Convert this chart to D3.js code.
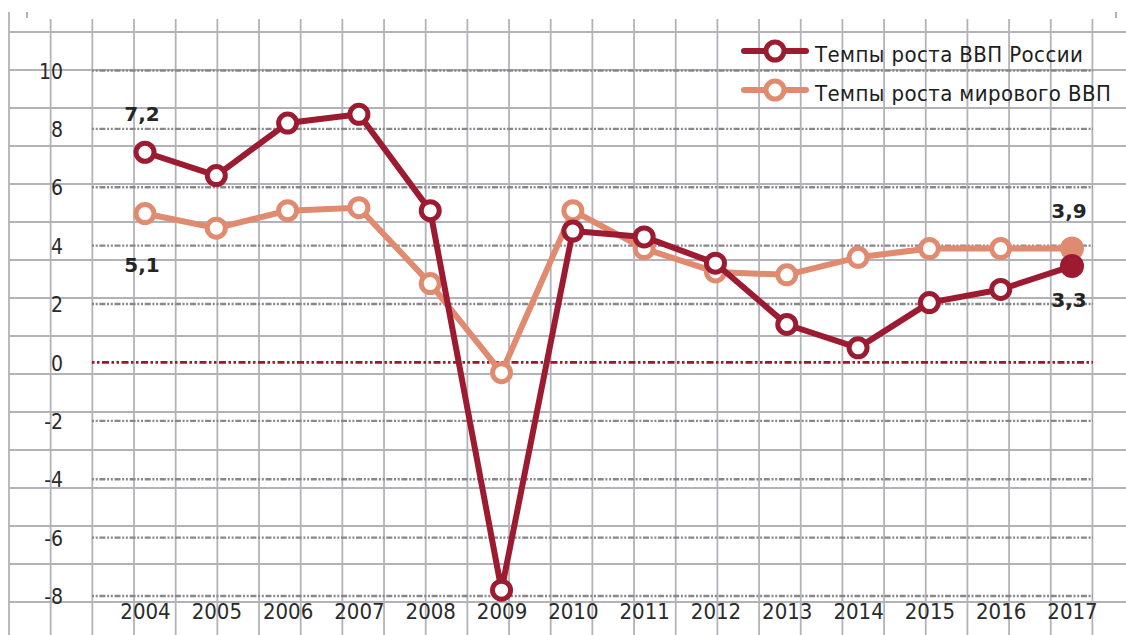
<!DOCTYPE html>
<html>
<head>
<meta charset="utf-8">
<script src="https://cdn.jsdelivr.net/npm/d3@7"></script>
<style>
  html, body { margin: 0; padding: 0; background: #fff; }
  svg { display: block; }
</style>
</head>
<body>
<svg id="chart" width="1126" height="635"></svg>
<script>
const years = [2004, 2005, 2006, 2007, 2008, 2009, 2010, 2011, 2012, 2013, 2014, 2015, 2016, 2017];
const russiaGrowth = [7.2, 6.4, 8.2, 8.5, 5.2, -7.8, 4.5, 4.3, 3.4, 1.3, 0.5, 2.05, 2.5, 3.3];
const worldGrowth = [5.1, 4.6, 5.2, 5.3, 2.7, -0.35, 5.2, 3.9, 3.1, 3.0, 3.6, 3.9, 3.9, 3.9];
const yTicks = [10, 8, 6, 4, 2, 0, -2, -4, -6, -8];
const seriesNames = ["Темпы роста ВВП России", "Темпы роста мирового ВВП"];
const valueLabels = [
  { series: 0, index: 0, text: "7,2", pos: "above" },
  { series: 1, index: 0, text: "5,1", pos: "below" },
  { series: 1, index: 13, text: "3,9", pos: "above" },
  { series: 0, index: 13, text: "3,3", pos: "below" }
];

const W = 1126, H = 635;
const colors = ["#9c1b31", "#e08a70"];
const svg = d3.select("#chart");

const x = d3.scalePoint().domain(years).range([145, 1072]);
const y = d3.scaleLinear().domain([-8, 10]).range([596, 70.5]);

// graph-paper background
const paper = svg.append("g");
const vStep = 41.67, hStep = 38;
d3.range(9, 1094, vStep).forEach((vx, i) => {
  paper.append("line")
    .attr("x1", vx).attr("x2", vx)
    .attr("y1", i === 0 ? 12 : 19).attr("y2", H)
    .attr("stroke", "#b2b3b9").attr("stroke-width", 1.8);
});
d3.range(32, H, hStep).forEach(hy => {
  paper.append("line")
    .attr("x1", 9).attr("x2", W)
    .attr("y1", hy).attr("y2", hy)
    .attr("stroke", "#b2b3b9").attr("stroke-width", 1.8);
});
paper.append("line").attr("x1", 27).attr("x2", 27).attr("y1", 12).attr("y2", 18)
  .attr("stroke", "#999").attr("stroke-width", 1.5);
paper.append("line").attr("x1", 1116).attr("x2", 1116).attr("y1", 12).attr("y2", 18)
  .attr("stroke", "#999").attr("stroke-width", 1.5);

// value gridlines (dotted)
const grid = svg.append("g");
yTicks.forEach(t => {
  grid.append("line")
    .attr("x1", 92).attr("x2", 1093)
    .attr("y1", y(t)).attr("y2", y(t))
    .attr("stroke", t === 0 ? "#a3152c" : "#88888c")
    .attr("stroke-width", t === 0 ? 2.8 : 2.4)
    .attr("stroke-dasharray", t === 0 ? "2.5,2.5,2.5,2.5,7,2.5" : "2,1.7,2,1.7,6,1.7");
});

// y axis labels
const yAxis = d3.axisLeft(y).tickValues(yTicks).tickSize(0).tickPadding(0)
  .tickFormat(d => String(d));
const yg = svg.append("g").attr("transform", "translate(63,0)").call(yAxis);
yg.select(".domain").remove();
yg.selectAll("text")
  .attr("font-family", "'DejaVu Sans Condensed', 'DejaVu Sans', sans-serif")
  .attr("font-size", 21).attr("fill", "#2a2a2a").attr("dy", "0.36em");

// x axis labels
const xAxis = d3.axisBottom(x).tickSize(0).tickPadding(0).tickFormat(d => String(d));
const xg = svg.append("g").attr("transform", "translate(0,603)").call(xAxis);
xg.select(".domain").remove();
xg.selectAll("text")
  .attr("font-family", "'DejaVu Sans Condensed', 'DejaVu Sans', sans-serif")
  .attr("font-size", 22).attr("fill", "#2a2a2a").attr("dy", "0.71em");

// series lines
const seriesData = [russiaGrowth, worldGrowth];
const line = d3.line().x((d, i) => x(years[i])).y(d => y(d));
[1, 0].forEach(s => {
  const g = svg.append("g");
  g.append("path")
    .datum(seriesData[s])
    .attr("d", line)
    .attr("fill", "none")
    .attr("stroke", colors[s])
    .attr("stroke-width", 6)
    .attr("stroke-linejoin", "round");
  g.selectAll("circle")
    .data(seriesData[s])
    .join("circle")
    .attr("cx", (d, i) => x(years[i]))
    .attr("cy", d => y(d))
    .attr("r", (d, i) => i === years.length - 1 ? 12 : 9)
    .attr("fill", (d, i) => i === years.length - 1 ? colors[s] : "#fff")
    .attr("stroke", colors[s])
    .attr("stroke-width", (d, i) => i === years.length - 1 ? 0 : 5);
});

// value labels
valueLabels.forEach(l => {
  const v = seriesData[l.series][l.index];
  svg.append("text")
    .attr("x", x(years[l.index]) - 3)
    .attr("y", y(v) + (l.pos === "above" ? -31 : 58 - (l.series === 0 ? 17 : 0)))
    .attr("text-anchor", "middle")
    .attr("font-family", "'DejaVu Sans', sans-serif")
    .attr("font-weight", "bold")
    .attr("font-size", 20)
    .attr("fill", "#262626")
    .text(l.text);
});

// legend
const legend = svg.append("g");
seriesNames.forEach((name, i) => {
  const ly = 51 + i * 39;
  legend.append("line")
    .attr("x1", 744).attr("x2", 806).attr("y1", ly).attr("y2", ly)
    .attr("stroke", colors[i]).attr("stroke-width", 6).attr("stroke-linecap", "round");
  legend.append("circle")
    .attr("cx", 775).attr("cy", ly).attr("r", 9)
    .attr("fill", "#fff").attr("stroke", colors[i]).attr("stroke-width", 5);
  legend.append("text")
    .attr("x", 815).attr("y", ly + 11)
    .attr("font-family", "'DejaVu Sans Condensed', 'DejaVu Sans', sans-serif")
    .attr("font-size", 22)
    .attr("letter-spacing", 0.4)
    .attr("fill", "#1e1e1e")
    .text(name);
});
</script>
</body>
</html>
